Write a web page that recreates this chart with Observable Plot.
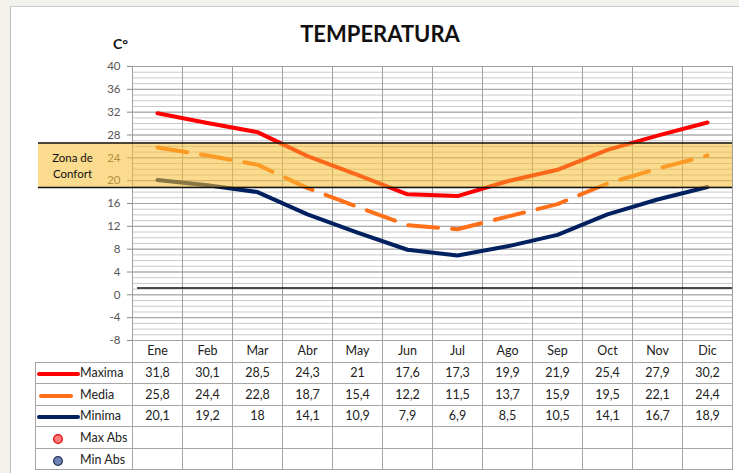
<!DOCTYPE html>
<html><head><meta charset="utf-8">
<script src="https://cdn.jsdelivr.net/npm/d3@7"></script>
<script src="https://cdn.jsdelivr.net/npm/@observablehq/plot@0.6"></script>
<style>
body{margin:0;background:#F3F1EC;font-family:Lato,"Open Sans",sans-serif;}
#wrap{position:relative;width:739px;height:473px;overflow:hidden;}
#frame{position:absolute;left:10px;top:6px;width:760px;height:500px;background:#fff;border-left:1.5px solid #BDBDBD;border-top:1.5px solid #C8C8C8;}
#title{position:absolute;left:0;width:760px;top:20px;text-align:center;font-weight:bold;font-size:22px;color:#111;}
#unit{position:absolute;left:113px;top:35px;font-weight:bold;font-size:14px;color:#111;}
#chart{position:absolute;left:0;top:0;}
table{position:absolute;left:35px;top:340px;border-collapse:collapse;table-layout:fixed;width:697px;font-size:12.5px;color:#222;}
td{border:1px solid #A6A6A6;text-align:center;padding:0;white-space:nowrap;}
tr{height:21.6px;}
tr.head{height:22px;}
tr.head td{border-top:none;}
tr.head td.lab{border:none;}
td.lab{text-align:left;}
td.lab svg{vertical-align:middle;}
</style></head>
<body>
<div id="wrap">
  <div id="frame"></div>
  <div id="chart"></div>
  <div id="title">TEMPERATURA</div>
  <div id="unit">C°</div>
  <table id="tbl"></table>
</div>
<script>
const months = ["Ene","Feb","Mar","Abr","May","Jun","Jul","Ago","Sep","Oct","Nov","Dic"];
const maxima = [31.8,30.1,28.5,24.3,21,17.6,17.3,19.9,21.9,25.4,27.9,30.2];
const media  = [25.8,24.4,22.8,18.7,15.4,12.2,11.5,13.7,15.9,19.5,22.1,24.4];
const minima = [20.1,19.2,18,14.1,10.9,7.9,6.9,8.5,10.5,14.1,16.7,18.9];
const maxAbs = [];
const minAbs = [];
const yTicks = d3.range(-8, 41, 4);
const yMinor = d3.range(-8, 41, 1);
const confortLow = 18.8, confortHigh = 26.6;
const lineaRef = 1.2;

const cRed = "#FF0000", cOrange = "#FF7018", cNavy = "#002060";
const rows = months.map((m, i) => ({i, m, x: i + 0.5, max: maxima[i], med: media[i], min: minima[i]}));
const band = [{x1: 0, x2: months.length, y1: confortLow, y2: confortHigh}];

const chart = Plot.plot({
  width: 739, height: 362,
  marginTop: 66, marginBottom: 22, marginLeft: 132, marginRight: 7,
  x: {domain: [0, months.length], axis: null},
  y: {domain: [-8, 40], axis: null},
  style: {fontFamily: "Lato, 'Open Sans', sans-serif", background: "transparent", overflow: "visible"},
  marks: [
    Plot.ruleY(yMinor, {stroke: "#C9C9C9", strokeWidth: 1}),
    Plot.ruleY(yTicks, {stroke: "#A0A0A0", strokeWidth: 1}),
    Plot.ruleX(d3.range(0, months.length + 1), {stroke: "#A0A0A0", strokeWidth: 1}),
    Plot.axisY({ticks: yTicks, tickFormat: d => String(d), tickSize: 5, tickPadding: 7, fontSize: 11.5, label: null, stroke: "#888", fill: "#555"}),
    Plot.ruleY([lineaRef], {x1: 0.1, x2: months.length, stroke: "#111", strokeWidth: 1.3}),
    Plot.line(rows, {x: "x", y: "min", stroke: cNavy, strokeWidth: 4, strokeLinecap: "round", strokeLinejoin: "round"}),
    Plot.line(rows, {x: "x", y: "med", stroke: cOrange, strokeWidth: 4, strokeDasharray: "30,14", strokeLinecap: "round", strokeLinejoin: "round"}),
    Plot.line(rows, {x: "x", y: "max", stroke: cRed, strokeWidth: 4, strokeLinecap: "round", strokeLinejoin: "round"}),
    Plot.rect(band, {x1: "x1", x2: "x2", y1: "y1", y2: "y2", fill: "#F8BE30", fillOpacity: 0.55, insetLeft: -94}),
    Plot.ruleY([confortLow, confortHigh], {x1: 0, x2: months.length, stroke: "#111", strokeWidth: 1.5, insetLeft: -94}),
    Plot.text(band, {x: "x1", y: d => (d.y1 + d.y2) / 2, text: () => "Zona de\nConfort", dx: -60, fontSize: 11.5, fill: "#111", lineHeight: 1.4})
  ]
});
document.getElementById("chart").appendChild(chart);

const fmt = v => v === undefined ? "" : String(v).replace(".", ",");
const legend = {
  "Maxima": `<svg width="44" height="10"><line x1="3" x2="42" y1="5" y2="5" stroke="${cRed}" stroke-width="4" stroke-linecap="round"/></svg>`,
  "Media": `<svg width="44" height="10"><line x1="5" x2="35" y1="5" y2="5" stroke="${cOrange}" stroke-width="4" stroke-linecap="round"/></svg>`,
  "Minima": `<svg width="44" height="10"><line x1="3" x2="42" y1="5" y2="5" stroke="${cNavy}" stroke-width="4" stroke-linecap="round"/></svg>`,
  "Max Abs": `<svg width="44" height="12"><circle cx="22" cy="6" r="4.3" fill="#FF7C7C" stroke="#E00000" stroke-width="1.3"/></svg>`,
  "Min Abs": `<svg width="44" height="12"><circle cx="22" cy="6" r="4.3" fill="#6F84B4" stroke="#1F2F5A" stroke-width="1.3"/></svg>`
};
const series = [["Maxima", maxima], ["Media", media], ["Minima", minima], ["Max Abs", maxAbs], ["Min Abs", minAbs]];
let html = `<colgroup><col style="width:97px">${months.map(() => `<col style="width:50px">`).join("")}</colgroup>`;
html += `<tr class="head"><td class="lab"></td>${months.map(m => `<td>${m}</td>`).join("")}</tr>`;
for (const [name, vals] of series) {
  html += `<tr><td class="lab">${legend[name]}${name}</td>${months.map((m, i) => `<td>${fmt(vals[i])}</td>`).join("")}</tr>`;
}
document.getElementById("tbl").innerHTML = html;
</script>
</body></html>
